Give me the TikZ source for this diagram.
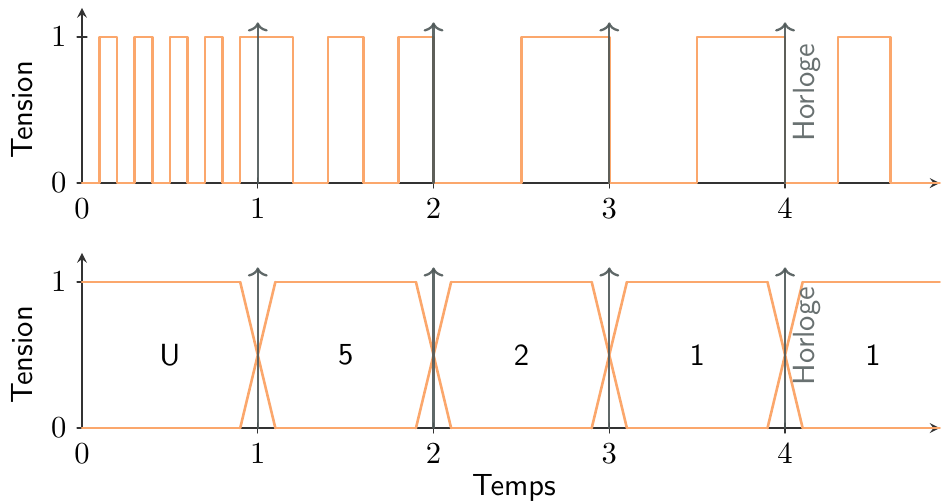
\documentclass[tikz,border=0pt]{standalone}
\usetikzlibrary{arrows.meta}
\definecolor{cam}{HTML}{FBA76C}
\definecolor{xam}{HTML}{4E5858}
\tikzset{
	tinhieu/.style={cam, line width=0.85pt},
	dongho/.style={xam, line width=0.75pt, opacity=0.9, -{To[length=3pt,width=6.5pt]}},
	truc/.style={black!80, line width=0.45pt},
	nhan/.style={font=\sffamily}
}
\begin{document}
\begin{tikzpicture}[>=stealth, line join=round, line cap=round]
	\def\xmax{4.88} \def\ymax{1.2} % truc
	\useasboundingbox (-0.943cm,-0.851cm) rectangle (9.9cm,4.922cm);
	% hai do thi: tren (xung) va duoi (ma)
	\foreach \hang/\dich in {tren/2.8175cm, duoi/0cm} {
	\begin{scope}[yshift=\dich, x=2.021cm, y=1.679cm]
		\draw[truc,->] (0,0)--(\xmax,0);
		\draw[truc,->] (0,0)--(0,\ymax);
		\foreach \y in {0,1} {
			\draw[truc] (-0.028,\y)--(0.028,\y);
			\node[left] (ty\hang\y) at (-0.028,\y) {$\y$};
		}
		\foreach \x in {1,...,4} \draw[truc] (\x,-0.034)--(\x,0.034);
		\foreach \x in {0,...,4} \node[below] (tx\hang\x) at (\x,-0.034) {$\x$};
		\node[nhan, rotate=90] (tension\hang) at (-0.34,0.5) {Tension};
	\end{scope}
	}
	\begin{scope}[yshift=2.8175cm, x=2.021cm, y=1.679cm]
		\draw[tinhieu] (0,0) \foreach \a/\b in {0.1/0.2,0.3/0.4,0.5/0.6,0.7/0.8,0.9/1.2,1.4/1.6,1.8/2,2.5/3,3.5/4,4.3/4.6}
			{-- (\a,0) -- (\a,1) -- (\b,1) -- (\b,0)} -- (\xmax,0);
		\foreach \t in {1,...,4} {
			\coordinate (hA\t) at (\t,0); \coordinate (hB\t) at (\t,1.1);
			\draw[dongho] (hA\t)--(hB\t);
		}
		\node[nhan, rotate=90, xam!85] (horlogeA) at (4.125,0.62) {Horloge};
	\end{scope}
	\begin{scope}[x=2.021cm, y=1.679cm]
		\foreach \a/\b in {0/0.9,1.1/1.9,2.1/2.9,3.1/3.9,4.1/\xmax}
			\draw[tinhieu] (\a,0)--(\b,0) (\a,1)--(\b,1);
		\foreach \t in {1,...,4}
			\draw[tinhieu] (\t-0.1,0)--(\t+0.1,1) (\t-0.1,1)--(\t+0.1,0);
		\foreach \t in {1,...,4} {
			\coordinate (kA\t) at (\t,0); \coordinate (kB\t) at (\t,1.1);
			\draw[dongho] (kA\t)--(kB\t);
		}
		\foreach \x/\m in {0.5/U,1.5/5,2.5/2,3.5/1,4.5/1}
			\node[nhan] (ma\x) at (\x,0.5) {\m};
		\node[nhan, rotate=90, xam!85] (horlogeB) at (4.125,0.63) {Horloge};
		\node[nhan] (temps) at (2.458,-0.407) {Temps};
	\end{scope}
\end{tikzpicture}
\end{document}
